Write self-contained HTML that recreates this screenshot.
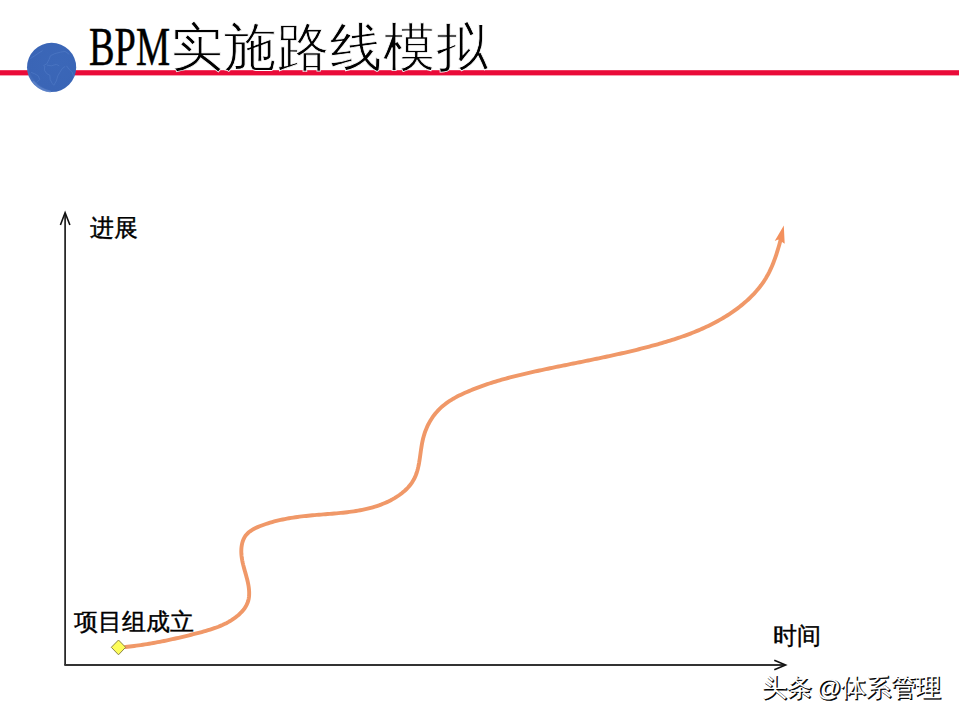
<!DOCTYPE html>
<html><head><meta charset="utf-8">
<style>
html,body{margin:0;padding:0;background:#fff;}
body{width:960px;height:720px;position:relative;overflow:hidden;}
.t{position:absolute;white-space:nowrap;line-height:1;}
.ser{font-family:"Liberation Serif",serif;color:#000;}
#bpm{left:88.7px;top:18.5px;font-size:55px;transform:scaleX(0.697);transform-origin:0 0;-webkit-text-stroke:0.5px #000;}
#cjk{left:171px;top:21.5px;font-size:52px;letter-spacing:1.1px;-webkit-text-stroke:0.8px #fff;}
.lbl{font-family:"Liberation Sans",sans-serif;font-size:24px;color:#000;-webkit-text-stroke:0.4px #000;}
.wm{font-family:"Liberation Sans",sans-serif;font-size:24.5px;word-spacing:-2.5px;}
.wmb{color:#000;-webkit-text-stroke:0.7px #000;}
.wmw{color:#fff;}
</style></head><body>
<svg width="960" height="720" style="position:absolute;left:0;top:0">
  <defs>
    <radialGradient id="g" cx="0.62" cy="0.38" r="0.72">
      <stop offset="0" stop-color="#3b67b8"/>
      <stop offset="0.82" stop-color="#3a65b6"/>
      <stop offset="1" stop-color="#5a7fc4"/>
    </radialGradient>
  </defs>
  <rect x="0" y="70.2" width="959" height="5.2" fill="#ea0b39"/>
  <circle cx="51.6" cy="67.4" r="24.6" fill="url(#g)"/>
  <path d="M33.5,82 Q40,90 50,91.5" stroke="#6a8ed2" stroke-width="2.2" fill="none" opacity="0.55" stroke-linecap="round"/>
  <g stroke="#5d87cf" stroke-width="0.8" fill="none" opacity="0.5" stroke-linejoin="round">
    <path d="M43.3,65.8 L46.9,63.7 L49.1,59.3 L50.5,55.7 L54.9,53.6 L60.7,52.1 L65,51.4 L69.3,54.3"/>
    <path d="M44.8,65.8 L44.4,70.2 L46.9,73.8 L49.8,75.2 L50.2,79.5 L52,83.2 L53.8,85.3 L56.3,81 L57.8,75.9 L59.9,72.3 L62.1,68.7 L65,66.5"/>
    <path d="M46.9,65.1 L51.3,65.8 L56.3,64.4 L59.2,65.8"/>
    <path d="M30.3,58.6 L34.7,55.7 L39,52.8 L42.6,50.7"/>
    <path d="M31.1,72.3 L34.7,73.8 L38.3,75.9 L39.7,79.5 L36.8,82.4"/>
    <path d="M66.4,65.8 L69.3,69.4 L72.2,72.3 L73.7,76.7"/>
  </g>
  <path d="M65.1,665 V213.5" stroke="#111" stroke-width="1.6" fill="none"/>
  <path d="M60.4,225 L65.1,212.8 L69.9,225" stroke="#111" stroke-width="1.6" fill="none" stroke-linejoin="miter"/>
  <path d="M64.3,665 H784.5" stroke="#333" stroke-width="1.8" fill="none"/>
  <path d="M774.3,660.2 L785.6,665 L774.3,669.8" stroke="#111" stroke-width="1.6" fill="none"/>
  <path d="M125.46,647.02 L127.66,646.77 L129.84,646.52 L132.02,646.25 L134.19,645.97 L136.35,645.68 L138.50,645.38 L140.65,645.07 L142.79,644.75 L144.93,644.41 L147.06,644.07 L149.18,643.72 L151.30,643.35 L153.42,642.98 L155.53,642.60 L157.64,642.20 L159.74,641.80 L161.84,641.39 L163.94,640.97 L166.04,640.54 L168.13,640.10 L170.23,639.65 L172.32,639.20 L174.41,638.73 L176.51,638.26 L178.60,637.78 L180.69,637.30 L182.79,636.80 L184.88,636.30 L186.98,635.79 L189.08,635.27 L191.19,634.75 L193.29,634.22 L195.40,633.68 L197.52,633.13 L199.63,632.58 L201.75,632.02 L203.86,631.44 L205.98,630.84 L208.08,630.23 L210.17,629.58 L212.26,628.91 L214.32,628.21 L216.38,627.47 L218.41,626.70 L220.42,625.88 L222.41,625.02 L224.37,624.11 L226.30,623.15 L228.20,622.13 L230.07,621.06 L231.90,619.92 L233.69,618.72 L235.44,617.45 L237.15,616.11 L238.80,614.70 L240.39,613.21 L241.89,611.65 L243.30,610.02 L244.58,608.32 L245.73,606.56 L246.73,604.72 L247.56,602.82 L248.21,600.86 L248.69,598.84 L248.99,596.77 L249.15,594.66 L249.17,592.52 L249.07,590.36 L248.86,588.19 L248.56,586.01 L248.17,583.84 L247.72,581.68 L247.21,579.53 L246.65,577.39 L246.07,575.26 L245.47,573.13 L244.86,571.01 L244.26,568.88 L243.69,566.76 L243.14,564.62 L242.65,562.48 L242.21,560.33 L241.84,558.17 L241.56,555.99 L241.37,553.79 L241.29,551.58 L241.33,549.37 L241.50,547.18 L241.81,545.03 L242.26,542.94 L242.86,540.92 L243.63,539.00 L244.58,537.19 L245.70,535.51 L247.01,533.98 L248.48,532.57 L250.10,531.28 L251.84,530.11 L253.68,529.03 L255.61,528.03 L257.61,527.11 L259.65,526.26 L261.73,525.46 L263.81,524.71 L265.90,523.99 L267.99,523.31 L270.08,522.67 L272.17,522.06 L274.26,521.49 L276.36,520.94 L278.46,520.43 L280.56,519.94 L282.67,519.49 L284.78,519.06 L286.89,518.66 L289.00,518.28 L291.12,517.92 L293.24,517.58 L295.36,517.27 L297.49,516.97 L299.62,516.69 L301.75,516.43 L303.89,516.18 L306.03,515.95 L308.18,515.72 L310.33,515.51 L312.48,515.31 L314.64,515.12 L316.80,514.93 L318.96,514.75 L321.13,514.57 L323.30,514.40 L325.48,514.23 L327.66,514.06 L329.84,513.88 L332.02,513.70 L334.21,513.52 L336.39,513.33 L338.57,513.13 L340.75,512.91 L342.93,512.69 L345.10,512.45 L347.27,512.20 L349.44,511.93 L351.60,511.64 L353.76,511.33 L355.91,510.99 L358.05,510.63 L360.19,510.25 L362.31,509.84 L364.43,509.39 L366.54,508.92 L368.64,508.42 L370.72,507.88 L372.80,507.30 L374.86,506.69 L376.91,506.03 L378.94,505.34 L380.96,504.60 L382.97,503.81 L384.96,502.98 L386.93,502.11 L388.89,501.18 L390.82,500.20 L392.74,499.17 L394.62,498.09 L396.47,496.95 L398.28,495.76 L400.05,494.52 L401.77,493.22 L403.43,491.87 L405.03,490.46 L406.56,489.00 L408.02,487.48 L409.41,485.90 L410.71,484.27 L411.92,482.59 L413.04,480.84 L414.06,479.04 L414.98,477.18 L415.79,475.26 L416.52,473.29 L417.16,471.28 L417.73,469.22 L418.23,467.13 L418.68,465.00 L419.09,462.85 L419.45,460.67 L419.79,458.47 L420.11,456.26 L420.42,454.04 L420.73,451.81 L421.05,449.58 L421.39,447.36 L421.75,445.14 L422.15,442.93 L422.60,440.74 L423.10,438.58 L423.66,436.44 L424.29,434.32 L424.98,432.24 L425.74,430.19 L426.56,428.18 L427.44,426.20 L428.39,424.26 L429.40,422.36 L430.47,420.50 L431.60,418.69 L432.79,416.92 L434.05,415.20 L435.36,413.53 L436.73,411.92 L438.15,410.35 L439.64,408.84 L441.18,407.39 L442.78,406.00 L444.42,404.66 L446.12,403.37 L447.86,402.13 L449.64,400.94 L451.46,399.80 L453.31,398.69 L455.20,397.63 L457.11,396.60 L459.05,395.61 L461.01,394.65 L462.98,393.72 L464.98,392.81 L466.98,391.93 L468.99,391.08 L471.01,390.24 L473.03,389.42 L475.06,388.63 L477.09,387.85 L479.13,387.08 L481.16,386.34 L483.21,385.61 L485.25,384.90 L487.30,384.20 L489.36,383.52 L491.41,382.85 L493.47,382.20 L495.54,381.56 L497.60,380.94 L499.67,380.33 L501.74,379.73 L503.82,379.14 L505.90,378.57 L507.98,378.00 L510.06,377.45 L512.15,376.90 L514.24,376.37 L516.33,375.84 L518.42,375.32 L520.52,374.82 L522.61,374.31 L524.71,373.82 L526.81,373.33 L528.92,372.85 L531.02,372.38 L533.13,371.91 L535.23,371.44 L537.34,370.98 L539.45,370.52 L541.56,370.07 L543.67,369.62 L545.79,369.17 L547.90,368.72 L550.02,368.28 L552.13,367.84 L554.25,367.40 L556.37,366.96 L558.48,366.53 L560.60,366.10 L562.72,365.66 L564.84,365.23 L566.96,364.80 L569.08,364.37 L571.20,363.94 L573.32,363.51 L575.45,363.08 L577.57,362.66 L579.69,362.23 L581.81,361.80 L583.93,361.37 L586.05,360.93 L588.17,360.50 L590.29,360.07 L592.41,359.63 L594.53,359.19 L596.65,358.76 L598.77,358.31 L600.89,357.87 L603.01,357.42 L605.13,356.97 L607.24,356.52 L609.36,356.07 L611.47,355.61 L613.59,355.15 L615.70,354.68 L617.81,354.21 L619.92,353.74 L622.03,353.26 L624.14,352.78 L626.25,352.29 L628.36,351.80 L630.46,351.30 L632.56,350.80 L634.66,350.29 L636.76,349.77 L638.86,349.25 L640.96,348.73 L643.05,348.19 L645.15,347.65 L647.24,347.11 L649.33,346.55 L651.42,345.99 L653.50,345.43 L655.58,344.85 L657.66,344.27 L659.74,343.68 L661.82,343.08 L663.89,342.47 L665.96,341.85 L668.03,341.23 L670.10,340.59 L672.16,339.94 L674.21,339.28 L676.26,338.61 L678.31,337.93 L680.35,337.24 L682.39,336.53 L684.42,335.81 L686.45,335.07 L688.47,334.32 L690.48,333.56 L692.49,332.78 L694.49,331.98 L696.49,331.17 L698.47,330.33 L700.45,329.49 L702.42,328.62 L704.38,327.73 L706.34,326.83 L708.28,325.91 L710.22,324.96 L712.14,324.00 L714.06,323.01 L715.96,322.01 L717.86,320.98 L719.74,319.92 L721.62,318.85 L723.48,317.75 L725.33,316.63 L727.17,315.48 L729.00,314.31 L730.81,313.11 L732.62,311.89 L734.40,310.64 L736.17,309.36 L737.92,308.06 L739.65,306.73 L741.36,305.38 L743.05,304.00 L744.72,302.59 L746.36,301.16 L747.97,299.69 L749.55,298.21 L751.11,296.69 L752.63,295.15 L754.13,293.58 L755.58,291.98 L757.01,290.35 L758.39,288.70 L759.74,287.02 L761.05,285.31 L762.31,283.57 L763.54,281.81 L764.72,280.01 L765.86,278.19 L766.94,276.33 L767.99,274.45 L768.99,272.55 L769.94,270.62 L770.86,268.67 L771.74,266.69 L772.58,264.70 L773.39,262.69 L774.16,260.67 L774.91,258.63 L775.63,256.58 L776.32,254.52 L776.98,252.46 L777.63,250.38 L778.25,248.31 L778.86,246.23 L779.44,244.15 L780.02,242.07 L780.58,239.99" stroke="#f09868" stroke-width="3.9" fill="none" stroke-linecap="round"/>
  <path d="M783.8,225.6 L774.7,240.9 L778.2,239.6 L784.7,243.8 Z" fill="#f3905d"/>
  <path d="M118.5,640 L125.6,647.3 L118.5,654.8 L111.3,647.3 Z" fill="#fdfd5a" stroke="#8c8444" stroke-width="1"/>
</svg>
<div id="bpm" class="t ser">BPM</div>
<div id="cjk" class="t ser">实施路线模拟</div>
<div class="t lbl" style="left:90px;top:216px">进展</div>
<div class="t lbl" style="left:74px;top:610px">项目组成立</div>
<div class="t lbl" style="left:773px;top:624px">时间</div>
<div class="t wm wmb" style="left:763.2px;top:677.2px">头条 @体系管理</div>
<div class="t wm wmw" style="left:762px;top:676px">头条 @体系管理</div>
</body></html>
